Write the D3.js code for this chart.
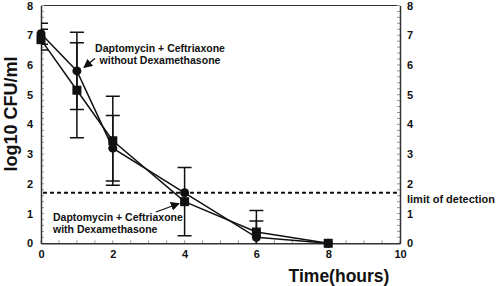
<!DOCTYPE html>
<html><head><meta charset="utf-8">
<script src="https://cdn.jsdelivr.net/npm/d3@7"></script>
<style>body{margin:0;background:#fff}svg{display:block;font-family:"Liberation Sans",Arial,sans-serif;font-weight:bold}</style>
</head><body><svg id="c" width="500" height="286"></svg>
<script>
const times = [0, 1, 2, 4, 6, 8];
const withoutDexa = [7.05, 5.8, 3.2, 1.7, 0.2, 0.0];
const withoutDexaErr = [0.35, 1.3, 1.1, 0.0, 0.55, 0.0];
const withDexa = [6.85, 5.15, 3.45, 1.4, 0.38, 0.0];
const withDexaErr = [0.35, 1.6, 1.5, 1.15, 0.72, 0.0];
const xTicks = [0, 2, 4, 6, 8, 10];
const yTicks = [0, 1, 2, 3, 4, 5, 6, 7, 8];
const detectionLimit = 1.7;

const svg = d3.select("#c");
const x = d3.scaleLinear().domain([0, 10]).range([41, 400]);
const y = d3.scaleLinear().domain([0, 8]).range([243.3, 5.5]);
const ink = "#111";

svg.append("defs").append("clipPath").attr("id","clip").append("rect")
  .attr("x",41).attr("y",5).attr("width",359).attr("height",238.3);
const mk = svg.append("defs").append("marker").attr("id","arr").attr("viewBox","0 0 10 10")
  .attr("refX",9).attr("refY",5).attr("markerWidth",9).attr("markerHeight",9)
  .attr("markerUnits","userSpaceOnUse").attr("orient","auto");
mk.append("path").attr("d","M0,0L10,5L0,10z").attr("fill",ink);

// frame: top line
svg.append("line").attr("x1",41).attr("x2",400).attr("y1",5.5).attr("y2",5.5).attr("stroke","#333").attr("stroke-width",1.2);

// minor ticks
const yMinor = d3.range(0, 8.01, 0.2);
const xMinor = d3.range(0, 10.01, 0.5);
svg.append("g").selectAll("line").data(yMinor).join("line")
  .attr("x1",41).attr("x2",44).attr("y1",d=>y(d)).attr("y2",d=>y(d)).attr("stroke","#999").attr("stroke-width",1);
svg.append("g").selectAll("line").data(yMinor).join("line")
  .attr("x1",397).attr("x2",400).attr("y1",d=>y(d)).attr("y2",d=>y(d)).attr("stroke","#999").attr("stroke-width",1);
svg.append("g").selectAll("line").data(xMinor).join("line")
  .attr("x1",d=>x(d)).attr("x2",d=>x(d)).attr("y1",243.3).attr("y2",240.3).attr("stroke","#999").attr("stroke-width",1);

// axes
const axL = svg.append("g").attr("transform","translate(41,0)").call(d3.axisLeft(y).tickValues(yTicks).tickSize(0).tickPadding(8));
const axR = svg.append("g").attr("transform","translate(400,0)").call(d3.axisRight(y).tickValues(yTicks).tickSize(0).tickPadding(7));
const axB = svg.append("g").attr("transform","translate(0,243.3)").call(d3.axisBottom(x).tickValues(xTicks).tickSize(0).tickPadding(7));
[axL,axR,axB].forEach(a=>{
  a.select(".domain").attr("stroke","#333").attr("stroke-width",1.5);
  a.selectAll("text").attr("font-size","11px").attr("font-weight","bold").attr("fill",ink).attr("font-family","Liberation Sans, Arial, sans-serif");
});
axL.selectAll(".tick").filter(d=>d===8).select("text").attr("dy","0.4em");
axR.selectAll(".tick").filter(d=>d===8).select("text").attr("dy","0.4em");

// detection line
svg.append("line").attr("x1",x(0)+2).attr("x2",x(10)).attr("y1",y(detectionLimit)).attr("y2",y(detectionLimit))
  .attr("stroke",ink).attr("stroke-width",1.8).attr("stroke-dasharray","4,3");

const plot = svg.append("g").attr("clip-path","url(#clip)");
function errBars(vals, errs){
  const data = times.map((t,i)=>({t,v:vals[i],e:errs[i]})).filter(d=>d.e>0);
  const g = plot.append("g").attr("stroke",ink).attr("stroke-width",1.5);
  g.selectAll(".v").data(data).join("line").attr("x1",d=>x(d.t)).attr("x2",d=>x(d.t)).attr("y1",d=>y(d.v+d.e)).attr("y2",d=>y(d.v-d.e));
  g.selectAll(".t").data(data).join("line").attr("x1",d=>x(d.t)-7).attr("x2",d=>x(d.t)+7).attr("y1",d=>y(d.v+d.e)).attr("y2",d=>y(d.v+d.e));
  g.selectAll(".b").data(data).join("line").attr("x1",d=>x(d.t)-7).attr("x2",d=>x(d.t)+7).attr("y1",d=>y(d.v-d.e)).attr("y2",d=>y(d.v-d.e));
}
errBars(withoutDexa, withoutDexaErr);
errBars(withDexa, withDexaErr);

const line = d3.line().x(d=>x(d[0])).y(d=>y(d[1]));
svg.append("path").datum(times.map((t,i)=>[t,withoutDexa[i]])).attr("d",line).attr("fill","none").attr("stroke",ink).attr("stroke-width",1.5);
svg.append("path").datum(times.map((t,i)=>[t,withDexa[i]])).attr("d",line).attr("fill","none").attr("stroke",ink).attr("stroke-width",1.5);
svg.append("g").selectAll("circle").data(times.map((t,i)=>[t,withoutDexa[i]])).join("circle")
  .attr("cx",d=>x(d[0])).attr("cy",d=>y(d[1])).attr("r",4.5).attr("fill",ink);
svg.append("g").selectAll("rect").data(times.map((t,i)=>[t,withDexa[i]])).join("rect")
  .attr("x",d=>x(d[0])-4.5).attr("y",d=>y(d[1])-4.5).attr("width",9).attr("height",9).attr("fill",ink);

// annotations
const ann = svg.append("g").attr("font-size","10.5px").attr("fill",ink);
ann.append("text").attr("x",160).attr("y",51.5).attr("text-anchor","middle").text("Daptomycin + Ceftriaxone");
ann.append("text").attr("x",160).attr("y",64).attr("text-anchor","middle").text("without Dexamethasone");
ann.append("text").attr("x",53).attr("y",220.5).text("Daptomycin + Ceftriaxone");
ann.append("text").attr("x",53).attr("y",232.5).text("with Dexamethasone");
svg.append("line").attr("x1",95).attr("y1",58.5).attr("x2",84).attr("y2",67.5).attr("stroke",ink).attr("stroke-width",1.3).attr("marker-end","url(#arr)");
svg.append("line").attr("x1",156).attr("y1",212).attr("x2",179).attr("y2",203.5).attr("stroke",ink).attr("stroke-width",1.3).attr("marker-end","url(#arr)");
svg.append("text").attr("x",407).attr("y",203).attr("font-size","11px").attr("fill",ink).text("limit of detection");

// axis titles
svg.append("text").attr("transform","translate(17,114) rotate(-90)").attr("text-anchor","middle").attr("font-size","18px").attr("fill",ink).text("log10 CFU/ml");
svg.append("text").attr("x",339).attr("y",282).attr("text-anchor","middle").attr("font-size","17.5px").attr("fill",ink).text("Time(hours)");
</script></body></html>
